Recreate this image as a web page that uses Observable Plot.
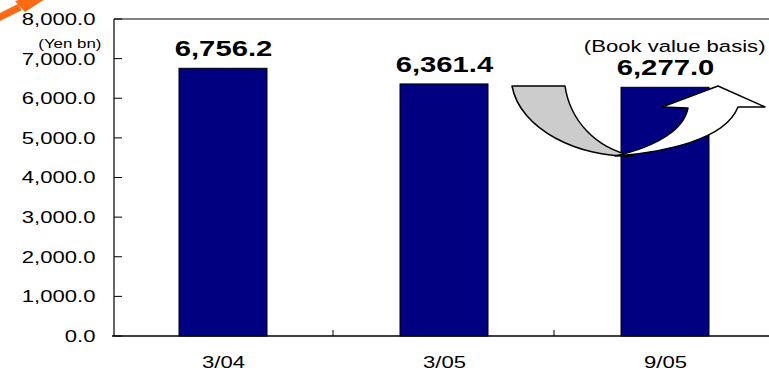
<!DOCTYPE html>
<html>
<head>
<meta charset="utf-8">
<script src="https://cdn.jsdelivr.net/npm/d3@7"></script>
<script src="https://cdn.jsdelivr.net/npm/@observablehq/plot@0.6"></script>
<style>
  html, body { margin: 0; padding: 0; background: #fff; }
  svg { display: block; }
</style>
</head>
<body>
<div id="chart"></div>
<script>
const categories = ["3/04", "3/05", "9/05"];
const values = [6756.2, 6361.4, 6277.0];
const yTicks = [0, 1000, 2000, 3000, 4000, 5000, 6000, 7000, 8000];
const unitLabel = "(Yen bn)";
const noteLabel = "(Book value basis)";

const data = categories.map((c, i) => ({cat: c, value: values[i]}));
const fmt = d3.format(",.1f");

const chart = Plot.plot({
  width: 769,
  height: 368,
  marginTop: 19,
  marginBottom: 32,
  marginLeft: 114,
  marginRight: 0,
  style: {fontFamily: "'Liberation Sans', Arial, sans-serif", background: "white", color: "black", overflow: "visible"},
  x: {domain: categories, range: [113, 776], paddingInner: 0.6, paddingOuter: 0.3},
  y: {domain: [0, 8000]},
  marks: [
    Plot.axisY(yTicks, {tickSize: 0, tickPadding: 19, tickFormat: fmt, fontSize: 17, label: null}),
    Plot.axisX({tickSize: 0, tickPadding: 19, fontSize: 17, label: null}),
    Plot.barY(data, {x: "cat", y: "value", fill: "#000080", stroke: "#000", strokeWidth: 1}),
    Plot.text(data, {x: "cat", y: "value", text: d => fmt(d.value), dy: -20, fontSize: 22.5, fontWeight: "bold"}),
    Plot.text([unitLabel], {frameAnchor: "top-left", dx: -13, dy: 19, textAnchor: "end", fontSize: 13}),
    Plot.text([noteLabel], {frameAnchor: "top-right", dx: -4, dy: 20, textAnchor: "end", fontSize: 17})
  ]
});

document.getElementById("chart").appendChild(chart);

// frame lines and inward ticks, positioned through the scales
const sx = chart.scale("x");
const sy = chart.scale("y");
const bw = sx.bandwidth;
const step = bw / (1 - 0.6);
const left = 114, right = 769;
const y0 = sy.apply(0), yTop = sy.apply(8000);
const g = d3.select(chart).append("g");
g.append("line").attr("x1", left).attr("x2", right).attr("y1", yTop).attr("y2", yTop)
  .attr("stroke", "#808080").attr("stroke-width", 2);
g.append("line").attr("x1", left).attr("x2", left).attr("y1", yTop).attr("y2", y0)
  .attr("stroke", "#000").attr("stroke-width", 1.2);
g.append("line").attr("x1", left - 2).attr("x2", right).attr("y1", y0).attr("y2", y0)
  .attr("stroke", "#000").attr("stroke-width", 1.5);
yTicks.forEach(t => {
  const y = sy.apply(t);
  g.append("line").attr("x1", left).attr("x2", left + 8).attr("y1", y).attr("y2", y)
    .attr("stroke", "#000").attr("stroke-width", 1);
});
categories.slice(0, -1).forEach(c => {
  const xb = sx.apply(c) + bw + (step - bw) / 2;
  g.append("line").attr("x1", xb).attr("x2", xb).attr("y1", y0).attr("y2", y0 - 6)
    .attr("stroke", "#000").attr("stroke-width", 1);
});

// decorative curved arrow near the last bar
const deco = d3.select(chart).append("g").attr("stroke", "#000").attr("stroke-width", 1.5).attr("stroke-linejoin", "round");
deco.append("path").attr("fill", "#cccccc")
  .attr("d", "M512,86 L565,86 C570,120 595,148 633,156 C580,158 520,130 512,86 Z");
deco.append("path").attr("fill", "#ffffff")
  .attr("d", "M615,156 C665,152 725,140 738,107 L765,107 L718,86 L662,107 L688,108 C684,128 660,146 615,156 Z");

// orange arrow in the top-left corner
const orange = d3.select(chart).append("g");
orange.append("line").attr("x1", -3).attr("y1", 18.5).attr("x2", 20).attr("y2", 7)
  .attr("stroke", "#ff6a13").attr("stroke-width", 7);
orange.append("path").attr("fill", "#ff6a13").attr("d", "M15,1 L25,12 L62,-12 Z");

// horizontally widened lettering like the reference, scaled about each text's anchor
const SVGNS = "http://www.w3.org/2000/svg";
const texts = Array.from(chart.querySelectorAll("text"));
texts.forEach(el => {
  const anchor = getComputedStyle(el).textAnchor;
  const wrap = document.createElementNS(SVGNS, "g");
  el.parentNode.insertBefore(wrap, el);
  wrap.appendChild(el);
  const b = wrap.getBBox();
  if (!(b.width > 0)) return;
  const ax = anchor === "end" ? b.x + b.width : anchor === "middle" ? b.x + b.width / 2 : b.x;
  wrap.setAttribute("transform", `translate(${ax.toFixed(2)},0) scale(1.3,1) translate(${(-ax).toFixed(2)},0)`);
});
</script>
</body>
</html>
